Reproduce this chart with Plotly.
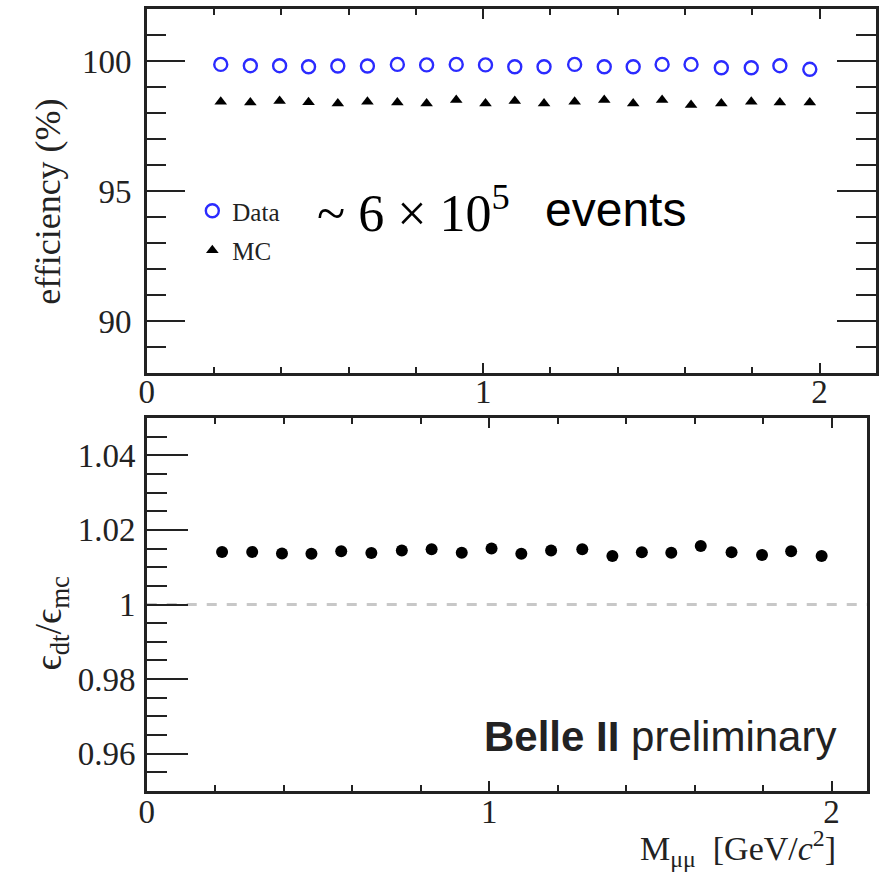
import plotly.graph_objects as go

# Dimuon invariant mass bin centres [GeV/c^2]
mass = [0.220, 0.308, 0.395, 0.481, 0.568, 0.656, 0.745, 0.832, 0.920, 1.007, 1.094,
        1.181, 1.272, 1.360, 1.446, 1.532, 1.618, 1.708, 1.797, 1.882, 1.971]

# Efficiency (%) in data and simulation
eff_data = [99.87, 99.82, 99.82, 99.78, 99.81, 99.81, 99.87, 99.85, 99.87, 99.85, 99.78,
            99.78, 99.87, 99.78, 99.78, 99.87, 99.87, 99.74, 99.74, 99.82, 99.68]
eff_mc = [98.43, 98.40, 98.46, 98.41, 98.37, 98.43, 98.40, 98.37, 98.50, 98.37, 98.46,
          98.37, 98.43, 98.50, 98.37, 98.50, 98.31, 98.37, 98.43, 98.40, 98.40]

# Data / MC efficiency ratio
ratio = [1.0141, 1.0141, 1.0137, 1.0136, 1.0143, 1.0138, 1.0145, 1.0148, 1.0139, 1.0150, 1.0136,
         1.0145, 1.0148, 1.0130, 1.0140, 1.0139, 1.0157, 1.0140, 1.0133, 1.0143, 1.0130]

eff_ticks = [90, 95, 100]
ratio_ticks = [0.96, 0.98, 1.00, 1.02, 1.04]
ratio_labels = ["0.96", "0.98", "1", "1.02", "1.04"]
mass_ticks = [0, 1, 2]

W, H = 884, 876
SERIF = "Liberation Serif, Times New Roman, serif"
SANS = "Liberation Sans, Arial, sans-serif"
INK = "#222222"
BLUE = "#2b2bff"


def px(x):
    return x / W


def py(y):
    return 1 - y / H


fig = go.Figure()
fig.add_trace(go.Scatter(
    x=mass, y=eff_data, mode="markers", name="Data",
    marker=dict(symbol="circle-open", size=13, color=BLUE, line=dict(width=2.4, color=BLUE)),
    xaxis="x", yaxis="y", legendgroup="data"))
fig.add_trace(go.Scatter(
    x=mass, y=eff_mc, mode="markers", name="MC",
    marker=dict(symbol="triangle-up", size=11, color="black"),
    xaxis="x", yaxis="y", legendgroup="mc"))
fig.add_trace(go.Scatter(
    x=mass, y=ratio, mode="markers", name="ratio", showlegend=False,
    marker=dict(symbol="circle", size=12, color="black"),
    xaxis="x2", yaxis="y2"))

tickfont = dict(family=SERIF, size=33, color=INK)
common = dict(showline=True, linecolor=INK, linewidth=2.5, showgrid=False, zeroline=False,
              ticks="inside", tickcolor=INK, tickwidth=2, tickfont=tickfont)

fig.update_layout(
    width=W, height=H,
    margin=dict(l=0, r=0, t=0, b=0),
    paper_bgcolor="white", plot_bgcolor="white",
    xaxis=dict(domain=[px(140), px(876)], anchor="y", range=[0, 2.168],
               tickmode="array", tickvals=mass_ticks, ticktext=[str(v) for v in mass_ticks],
               ticklen=10, mirror="allticks", ticklabelstandoff=-12,
               minor=dict(ticks="inside", ticklen=6, dtick=0.2, tick0=0, tickcolor=INK, tickwidth=2),
               **common),
    yaxis=dict(domain=[py(373), py(9)], anchor="x", range=[88, 102],
               tickmode="array", tickvals=eff_ticks, ticktext=[str(v) for v in eff_ticks],
               ticklen=39, mirror="allticks", ticklabelstandoff=6,
               minor=dict(ticks="inside", ticklen=20, dtick=1, tick0=88, tickcolor=INK, tickwidth=2),
               **common),
    xaxis2=dict(domain=[px(140), px(867)], anchor="y2", range=[0, 2.104],
                tickmode="array", tickvals=mass_ticks, ticktext=[str(v) for v in mass_ticks],
                ticklen=10, mirror="allticks", ticklabelstandoff=-10,
                minor=dict(ticks="inside", ticklen=6, dtick=0.2, tick0=0, tickcolor=INK, tickwidth=2),
                **common),
    yaxis2=dict(domain=[py(791), py(418)], anchor="x2", range=[0.95, 1.05],
                tickmode="array", tickvals=ratio_ticks, ticktext=ratio_labels,
                ticklen=42, mirror=True, ticklabelstandoff=2,
                minor=dict(ticks="inside", ticklen=21, dtick=0.005, tick0=0.95, tickcolor=INK, tickwidth=2),
                **common),
    yaxis3=dict(overlaying="y2", anchor="x2", side="right", range=[0.95, 1.05],
                tickmode="array", tickvals=ratio_ticks, showticklabels=False,
                ticks="inside", ticklen=18, tickcolor=INK, tickwidth=2,
                showline=False, showgrid=False, zeroline=False,
                minor=dict(ticks="inside", ticklen=18, dtick=0.005, tick0=0.95, tickcolor=INK, tickwidth=2)),
    legend=dict(x=px(186), y=py(188), xanchor="left", yanchor="top",
                bgcolor="rgba(0,0,0,0)", font=dict(family=SERIF, size=25, color=INK),
                tracegroupgap=4, itemwidth=30),
    showlegend=True,
)

# Reference line at unit ratio
fig.add_shape(type="line", xref="x2 domain", x0=0, x1=1, yref="y2", y0=1, y1=1,
              line=dict(color="#c8c8c8", width=3, dash="10px,10px"), layer="below")

annotations = [
    dict(text="efficiency (%)", x=px(40), y=py(202), textangle=-90,
         font=dict(family=SERIF, size=36, color=INK), xanchor="center", yanchor="middle"),
    dict(text="ϵ<sub>dt</sub>/ϵ<sub>mc</sub>", x=px(43), y=py(623), textangle=-90,
         font=dict(family=SERIF, size=38, color=INK), xanchor="center", yanchor="middle"),
    dict(text="M<sub>μμ</sub>  [GeV/<i>c</i><sup>2</sup>]", x=px(838), y=py(848),
         font=dict(family=SERIF, size=34, color=INK), xanchor="right", yanchor="middle"),
    dict(text="~ 6 × 10<sup>5</sup>", x=px(310), y=py(210),
         font=dict(family=SERIF, size=52, color="black"), xanchor="left", yanchor="middle"),
    dict(text="events", x=px(540), y=py(210),
         font=dict(family=SANS, size=48, color="black"), xanchor="left", yanchor="middle"),
    dict(text="<b>Belle II</b> preliminary", x=px(478), y=py(736),
         font=dict(family=SANS, size=42, color=INK), xanchor="left", yanchor="middle"),
]
for a in annotations:
    fig.add_annotation(xref="paper", yref="paper", showarrow=False, **a)

fig.write_html("out.html")
